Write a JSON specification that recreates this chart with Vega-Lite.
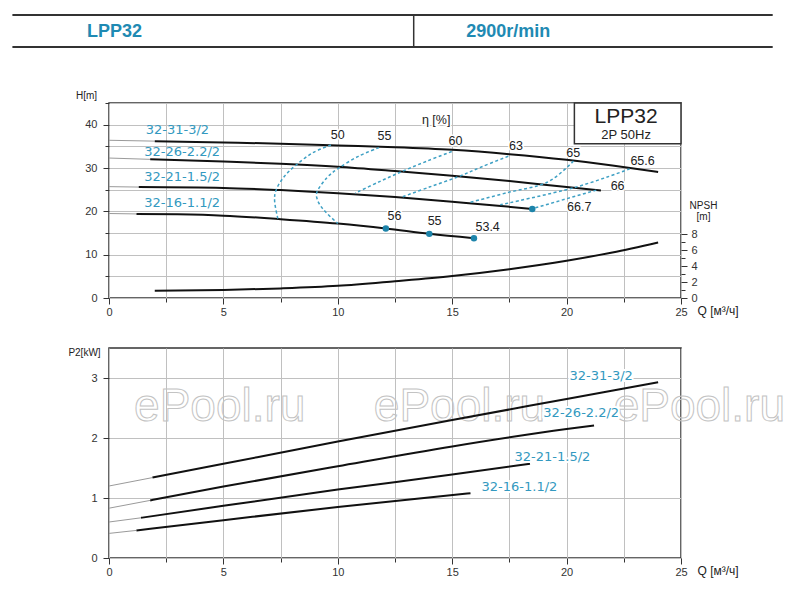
{
  "$schema": "https://vega.github.io/schema/vega-lite/v6.json",
  "padding": {"left": 11, "top": 0, "right": 0, "bottom": 0},
  "background": "white",
  "bounds": "flush",
  "spacing": 50,
  "config": {
    "font": "Liberation Sans",
    "view": {"stroke": "#333333", "strokeWidth": 1.5},
    "axis": {
      "labelFont": "Liberation Sans",
      "labelFontSize": 11,
      "labelColor": "#333333",
      "tickColor": "#333333",
      "gridColor": "#c0c0c0",
      "gridWidth": 1,
      "titleFont": "Liberation Sans",
      "titleFontWeight": "normal",
      "titleColor": "#222222",
      "titleFontSize": 10,
      "domain": false,
      "labelOverlap": false
    }
  },
  "datasets": {
    "hcurves": [
      {"model": "32-31-3/2", "part": "ext", "Q": 0, "H": 36.4},
      {"model": "32-31-3/2", "part": "ext", "Q": 2, "H": 36.2},
      {"model": "32-31-3/2", "part": "main", "Q": 2, "H": 36.2},
      {"model": "32-31-3/2", "part": "main", "Q": 5, "H": 35.9},
      {"model": "32-31-3/2", "part": "main", "Q": 7.5, "H": 35.6},
      {"model": "32-31-3/2", "part": "main", "Q": 10, "H": 35.2},
      {"model": "32-31-3/2", "part": "main", "Q": 12.5, "H": 34.8},
      {"model": "32-31-3/2", "part": "main", "Q": 15, "H": 34.2},
      {"model": "32-31-3/2", "part": "main", "Q": 17.5, "H": 33.2},
      {"model": "32-31-3/2", "part": "main", "Q": 20, "H": 31.9},
      {"model": "32-31-3/2", "part": "main", "Q": 22, "H": 30.6},
      {"model": "32-31-3/2", "part": "main", "Q": 24, "H": 29.1},
      {"model": "32-26-2.2/2", "part": "ext", "Q": 0, "H": 32.3},
      {"model": "32-26-2.2/2", "part": "ext", "Q": 1.8, "H": 32.0},
      {"model": "32-26-2.2/2", "part": "main", "Q": 1.8, "H": 32.0},
      {"model": "32-26-2.2/2", "part": "main", "Q": 5, "H": 31.5},
      {"model": "32-26-2.2/2", "part": "main", "Q": 7.5, "H": 31.0},
      {"model": "32-26-2.2/2", "part": "main", "Q": 10, "H": 30.3},
      {"model": "32-26-2.2/2", "part": "main", "Q": 12.5, "H": 29.3},
      {"model": "32-26-2.2/2", "part": "main", "Q": 15, "H": 28.2},
      {"model": "32-26-2.2/2", "part": "main", "Q": 17.5, "H": 27.0},
      {"model": "32-26-2.2/2", "part": "main", "Q": 20, "H": 25.6},
      {"model": "32-26-2.2/2", "part": "main", "Q": 21.5, "H": 24.8},
      {"model": "32-21-1.5/2", "part": "ext", "Q": 0, "H": 25.7},
      {"model": "32-21-1.5/2", "part": "ext", "Q": 1.3, "H": 25.6},
      {"model": "32-21-1.5/2", "part": "main", "Q": 1.3, "H": 25.6},
      {"model": "32-21-1.5/2", "part": "main", "Q": 5, "H": 25.4},
      {"model": "32-21-1.5/2", "part": "main", "Q": 7.5, "H": 24.9},
      {"model": "32-21-1.5/2", "part": "main", "Q": 10, "H": 24.2},
      {"model": "32-21-1.5/2", "part": "main", "Q": 12.5, "H": 23.3},
      {"model": "32-21-1.5/2", "part": "main", "Q": 15, "H": 22.2},
      {"model": "32-21-1.5/2", "part": "main", "Q": 17, "H": 21.3},
      {"model": "32-21-1.5/2", "part": "main", "Q": 18.5, "H": 20.55},
      {"model": "32-16-1.1/2", "part": "ext", "Q": 0, "H": 19.5},
      {"model": "32-16-1.1/2", "part": "ext", "Q": 1.2, "H": 19.4},
      {"model": "32-16-1.1/2", "part": "main", "Q": 1.2, "H": 19.4},
      {"model": "32-16-1.1/2", "part": "main", "Q": 3, "H": 19.3},
      {"model": "32-16-1.1/2", "part": "main", "Q": 5, "H": 19.0},
      {"model": "32-16-1.1/2", "part": "main", "Q": 7.5, "H": 18.2},
      {"model": "32-16-1.1/2", "part": "main", "Q": 10, "H": 17.2},
      {"model": "32-16-1.1/2", "part": "main", "Q": 12.1, "H": 16.05},
      {"model": "32-16-1.1/2", "part": "main", "Q": 14, "H": 14.8},
      {"model": "32-16-1.1/2", "part": "main", "Q": 15.95, "H": 13.8}
    ],
    "eff": [
      {"eff": "50", "i": 1, "Q": 9.7, "H": 35.3},
      {"eff": "50", "i": 2, "Q": 8.9, "H": 33.5},
      {"eff": "50", "i": 3, "Q": 8.18, "H": 30.7},
      {"eff": "50", "i": 4, "Q": 7.67, "H": 28.1},
      {"eff": "50", "i": 5, "Q": 7.31, "H": 25.0},
      {"eff": "50", "i": 6, "Q": 7.24, "H": 22.3},
      {"eff": "50", "i": 7, "Q": 7.38, "H": 18.3},
      {"eff": "55", "i": 1, "Q": 11.8, "H": 34.7},
      {"eff": "55", "i": 2, "Q": 10.9, "H": 32.7},
      {"eff": "55", "i": 3, "Q": 10.05, "H": 30.0},
      {"eff": "55", "i": 4, "Q": 9.53, "H": 27.8},
      {"eff": "55", "i": 5, "Q": 9.1, "H": 24.6},
      {"eff": "55", "i": 6, "Q": 9.1, "H": 22.8},
      {"eff": "55", "i": 7, "Q": 9.27, "H": 21.1},
      {"eff": "55", "i": 8, "Q": 9.55, "H": 19.4},
      {"eff": "55", "i": 9, "Q": 10.0, "H": 17.2},
      {"eff": "60", "i": 1, "Q": 14.98, "H": 33.8},
      {"eff": "60", "i": 2, "Q": 13.9, "H": 31.6},
      {"eff": "60", "i": 3, "Q": 12.85, "H": 29.3},
      {"eff": "60", "i": 4, "Q": 11.8, "H": 26.8},
      {"eff": "60", "i": 5, "Q": 10.76, "H": 24.2},
      {"eff": "63", "i": 1, "Q": 17.45, "H": 32.7},
      {"eff": "63", "i": 2, "Q": 16.3, "H": 30.3},
      {"eff": "63", "i": 3, "Q": 15.27, "H": 28.0},
      {"eff": "63", "i": 4, "Q": 14.0, "H": 25.6},
      {"eff": "63", "i": 5, "Q": 12.8, "H": 23.3},
      {"eff": "65", "i": 1, "Q": 20.3, "H": 31.6},
      {"eff": "65", "i": 2, "Q": 19.15, "H": 26.7},
      {"eff": "65", "i": 3, "Q": 17.4, "H": 24.3},
      {"eff": "65", "i": 4, "Q": 15.8, "H": 22.1},
      {"eff": "65.6", "i": 1, "Q": 22.76, "H": 29.8},
      {"eff": "65.6", "i": 2, "Q": 20.35, "H": 25.5},
      {"eff": "65.6", "i": 3, "Q": 17.1, "H": 21.5},
      {"eff": "66", "i": 1, "Q": 21.3, "H": 24.9},
      {"eff": "66", "i": 2, "Q": 18.5, "H": 20.6}
    ],
    "bep": [
      {"model": "32-16-1.1/2", "eff": 56, "Q": 12.1, "H": 16.05},
      {"model": "32-16-1.1/2", "eff": 55, "Q": 14, "H": 14.8},
      {"model": "32-16-1.1/2", "eff": 53.4, "Q": 15.95, "H": 13.8},
      {"model": "32-21-1.5/2", "eff": 66.7, "Q": 18.5, "H": 20.55}
    ],
    "effLabels": [
      {"label": "η  [%]", "Q": 14.3, "H": 41.1},
      {"label": "50", "Q": 10.0, "H": 37.7},
      {"label": "55", "Q": 12.04, "H": 37.5},
      {"label": "60", "Q": 15.14, "H": 36.2},
      {"label": "63", "Q": 17.79, "H": 35.0},
      {"label": "65", "Q": 20.29, "H": 33.5},
      {"label": "65.6", "Q": 23.32, "H": 31.7},
      {"label": "66", "Q": 22.23, "H": 25.8},
      {"label": "66.7", "Q": 20.55, "H": 20.9},
      {"label": "56", "Q": 12.48, "H": 19.0},
      {"label": "55", "Q": 14.23, "H": 17.7},
      {"label": "53.4", "Q": 16.55, "H": 16.5}
    ],
    "modelLabelsTop": [
      {"model": "32-31-3/2", "Q": 2.99, "H": 38.8},
      {"model": "32-26-2.2/2", "Q": 3.2, "H": 33.8},
      {"model": "32-21-1.5/2", "Q": 3.2, "H": 28.0},
      {"model": "32-16-1.1/2", "Q": 3.2, "H": 21.9}
    ],
    "npsh": [
      {"Q": 2, "NPSH": 0.9},
      {"Q": 5, "NPSH": 1.0},
      {"Q": 7.5, "NPSH": 1.2},
      {"Q": 10, "NPSH": 1.52},
      {"Q": 12.5, "NPSH": 2.1},
      {"Q": 15, "NPSH": 2.75},
      {"Q": 17.5, "NPSH": 3.6},
      {"Q": 20, "NPSH": 4.65},
      {"Q": 22, "NPSH": 5.7},
      {"Q": 24, "NPSH": 6.95}
    ],
    "pcurves": [
      {"model": "32-31-3/2", "part": "ext", "Q": 0, "P2": 1.2},
      {"model": "32-31-3/2", "part": "ext", "Q": 1.9, "P2": 1.34},
      {"model": "32-31-3/2", "part": "main", "Q": 1.9, "P2": 1.34},
      {"model": "32-31-3/2", "part": "main", "Q": 5, "P2": 1.57},
      {"model": "32-31-3/2", "part": "main", "Q": 10, "P2": 1.94},
      {"model": "32-31-3/2", "part": "main", "Q": 15, "P2": 2.3},
      {"model": "32-31-3/2", "part": "main", "Q": 20, "P2": 2.65},
      {"model": "32-31-3/2", "part": "main", "Q": 24, "P2": 2.93},
      {"model": "32-26-2.2/2", "part": "ext", "Q": 0, "P2": 0.83},
      {"model": "32-26-2.2/2", "part": "ext", "Q": 1.8, "P2": 0.96},
      {"model": "32-26-2.2/2", "part": "main", "Q": 1.8, "P2": 0.96},
      {"model": "32-26-2.2/2", "part": "main", "Q": 5, "P2": 1.19},
      {"model": "32-26-2.2/2", "part": "main", "Q": 10, "P2": 1.53},
      {"model": "32-26-2.2/2", "part": "main", "Q": 15, "P2": 1.86},
      {"model": "32-26-2.2/2", "part": "main", "Q": 20, "P2": 2.15},
      {"model": "32-26-2.2/2", "part": "main", "Q": 21.2, "P2": 2.21},
      {"model": "32-21-1.5/2", "part": "ext", "Q": 0, "P2": 0.6},
      {"model": "32-21-1.5/2", "part": "ext", "Q": 1.4, "P2": 0.67},
      {"model": "32-21-1.5/2", "part": "main", "Q": 1.4, "P2": 0.67},
      {"model": "32-21-1.5/2", "part": "main", "Q": 5, "P2": 0.87},
      {"model": "32-21-1.5/2", "part": "main", "Q": 10, "P2": 1.14},
      {"model": "32-21-1.5/2", "part": "main", "Q": 15, "P2": 1.39},
      {"model": "32-21-1.5/2", "part": "main", "Q": 18.4, "P2": 1.57},
      {"model": "32-16-1.1/2", "part": "ext", "Q": 0, "P2": 0.41},
      {"model": "32-16-1.1/2", "part": "ext", "Q": 1.2, "P2": 0.46},
      {"model": "32-16-1.1/2", "part": "main", "Q": 1.2, "P2": 0.46},
      {"model": "32-16-1.1/2", "part": "main", "Q": 5, "P2": 0.63},
      {"model": "32-16-1.1/2", "part": "main", "Q": 10, "P2": 0.85},
      {"model": "32-16-1.1/2", "part": "main", "Q": 15.8, "P2": 1.08}
    ],
    "modelLabelsBottom": [
      {"model": "32-31-3/2", "Q": 21.51, "P2": 3.03},
      {"model": "32-26-2.2/2", "Q": 20.64, "P2": 2.42},
      {"model": "32-21-1.5/2", "Q": 19.38, "P2": 1.69},
      {"model": "32-16-1.1/2", "Q": 17.94, "P2": 1.19}
    ],
    "watermarks": [
      {"text": "ePool.ru", "Q": 4.84, "P2": 2.29},
      {"text": "ePool.ru", "Q": 15.32, "P2": 2.29},
      {"text": "ePool.ru", "Q": 25.8, "P2": 2.29}
    ],
    "infoBox": [
      {"title": "LPP32", "subtitle": "2P  50Hz"}
    ]
  },
  "vconcat": [
    {
      "width": 572,
      "height": 53,
      "view": {"stroke": null},
      "data": {"values": [{}]},
      "layer": [
        {
          "mark": {"type": "rule", "stroke": "#333333", "strokeWidth": 2},
          "encoding": {
            "x": {"datum": -96.6, "type": "quantitative", "scale": {"domain": [0, 572], "nice": false, "zero": false}, "axis": null},
            "x2": {"datum": 663.7},
            "y": {"datum": 15, "type": "quantitative", "scale": {"domain": [0, 53], "reverse": true, "nice": false, "zero": false}, "axis": null}
          }
        },
        {
          "mark": {"type": "rule", "stroke": "#333333", "strokeWidth": 2},
          "encoding": {
            "x": {"datum": -96.6, "type": "quantitative", "axis": null},
            "x2": {"datum": 663.7},
            "y": {"datum": 47, "type": "quantitative", "axis": null}
          }
        },
        {
          "mark": {"type": "rule", "stroke": "#333333", "strokeWidth": 1.5},
          "encoding": {
            "x": {"datum": 304.7, "type": "quantitative", "axis": null},
            "y": {"datum": 15, "type": "quantitative", "axis": null},
            "y2": {"datum": 47}
          }
        },
        {
          "mark": {"type": "text", "fontWeight": "bold", "fontSize": 18, "color": "#1f8ab3", "baseline": "middle"},
          "encoding": {
            "x": {"datum": 5.4, "type": "quantitative", "axis": null},
            "y": {"datum": 31.5, "type": "quantitative", "axis": null},
            "text": {"value": "LPP32"}
          }
        },
        {
          "mark": {"type": "text", "fontWeight": "bold", "fontSize": 18, "color": "#1f8ab3", "baseline": "middle"},
          "encoding": {
            "x": {"datum": 399.2, "type": "quantitative", "axis": null},
            "y": {"datum": 31.5, "type": "quantitative", "axis": null},
            "text": {"value": "2900r/min"}
          }
        }
      ]
    },
    {
      "width": 572,
      "height": 195,
      "resolve": {"scale": {"y": "independent"}},
      "layer": [
        {
          "encoding": {
            "x": {
              "field": "Q", "type": "quantitative",
              "scale": {"domain": [0, 25], "nice": false, "zero": false},
              "axis": {
                "values": [0, 2.5, 5, 7.5, 10, 12.5, 15, 17.5, 20, 22.5, 25],
                "format": "d",
                "labelExpr": "datum.value % 5 === 0 ? datum.label : ''",
                "tickSize": {"condition": {"test": "datum.value % 5 === 0", "value": 6}, "value": 4},
                "labelFlush": false,
                "labelPadding": 2,
                "grid": true,
                "title": "Q [м³/ч]",
                "titleX": 588, "titleY": 12,
                "titleAlign": "left", "titleBaseline": "middle",
                "titleFontSize": 12
              }
            },
            "y": {
              "field": "H", "type": "quantitative",
              "scale": {"domain": [0, 45], "nice": false, "zero": false},
              "axis": {
                "values": [0, 5, 10, 15, 20, 25, 30, 35, 40, 45],
                "format": "d",
                "labelExpr": "datum.value % 10 === 0 ? datum.label : ''",
                "tickSize": {"condition": {"test": "datum.value % 10 === 0", "value": 6}, "value": 4},
                "labelPadding": 6,
                "grid": true,
                "title": "H[m]",
                "titleAngle": 0, "titleX": -23, "titleY": -3,
                "titleAlign": "center", "titleBaseline": "bottom"
              }
            }
          },
          "layer": [
            {
              "data": {"name": "hcurves"},
              "mark": {"type": "line", "interpolate": "monotone"},
              "encoding": {
                "detail": {"field": "model"},
                "color": {"field": "part", "type": "nominal", "scale": {"domain": ["ext", "main"], "range": ["#9a9a9a", "#111111"]}, "legend": null},
                "strokeWidth": {"field": "part", "type": "ordinal", "scale": {"domain": ["ext", "main"], "range": [1, 2]}, "legend": null}
              }
            },
            {
              "data": {"name": "eff"},
              "mark": {"type": "line", "interpolate": "cardinal", "strokeDash": [3, 2.5], "strokeWidth": 1.5, "color": "#3ea0c4"},
              "encoding": {
                "detail": {"field": "eff"},
                "order": {"field": "i", "type": "quantitative"}
              }
            },
            {
              "data": {"name": "bep"},
              "mark": {"type": "point", "filled": true, "size": 42, "color": "#1d84aa", "opacity": 1}
            },
            {
              "data": {"name": "effLabels"},
              "mark": {"type": "text", "fontSize": 12.5, "stroke": "white", "strokeWidth": 3, "color": "white"},
              "encoding": {"text": {"field": "label"}}
            },
            {
              "data": {"name": "effLabels"},
              "mark": {"type": "text", "fontSize": 12.5, "color": "#222222"},
              "encoding": {"text": {"field": "label"}}
            },
            {
              "data": {"name": "modelLabelsTop"},
              "mark": {"type": "text", "font": "DejaVu Sans", "fontSize": 13, "color": "#3399c0"},
              "encoding": {"text": {"field": "model"}}
            }
          ]
        },
        {
          "data": {"name": "infoBox"},
          "layer": [
            {
              "mark": {"type": "rect", "fill": "white", "stroke": "#333333", "strokeWidth": 1.5},
              "encoding": {
                "x": {"datum": 20.34, "type": "quantitative"},
                "x2": {"datum": 25},
                "y": {"datum": 45, "type": "quantitative", "scale": {"domain": [0, 45], "nice": false, "zero": false}, "axis": null},
                "y2": {"datum": 35.6}
              }
            },
            {
              "mark": {"type": "text", "fontSize": 21, "color": "#222222", "baseline": "alphabetic"},
              "encoding": {
                "x": {"datum": 22.6, "type": "quantitative"},
                "y": {"datum": 40.4, "type": "quantitative", "axis": null},
                "text": {"field": "title"}
              }
            },
            {
              "mark": {"type": "text", "fontSize": 13, "color": "#222222", "baseline": "alphabetic"},
              "encoding": {
                "x": {"datum": 22.6, "type": "quantitative"},
                "y": {"datum": 36.6, "type": "quantitative", "axis": null},
                "text": {"field": "subtitle"}
              }
            }
          ]
        },
        {
          "data": {"name": "npsh"},
          "mark": {"type": "line", "interpolate": "monotone", "color": "#111111", "strokeWidth": 2},
          "encoding": {
            "x": {"field": "Q", "type": "quantitative", "scale": {"domain": [0, 25], "nice": false, "zero": false}},
            "y": {
              "field": "NPSH", "type": "quantitative",
              "scale": {"domain": [0, 24.375], "nice": false, "zero": false},
              "axis": {
                "orient": "right",
                "values": [0, 1, 2, 3, 4, 5, 6, 7, 8],
                "format": "d",
                "labelExpr": "datum.value % 2 === 0 ? datum.label : ''",
                "tickSize": {"condition": {"test": "datum.value % 2 === 0", "value": 6}, "value": 4},
                "labelPadding": 4,
                "grid": false,
                "title": ["NPSH", "[m]"],
                "titleAngle": 0, "titleX": 22, "titleY": 97,
                "titleAlign": "center", "titleBaseline": "top",
                "titleLineHeight": 11
              }
            }
          }
        }
      ]
    },
    {
      "width": 572,
      "height": 210,
      "encoding": {
        "x": {
          "field": "Q", "type": "quantitative",
          "scale": {"domain": [0, 25], "nice": false, "zero": false},
          "axis": {
            "values": [0, 2.5, 5, 7.5, 10, 12.5, 15, 17.5, 20, 22.5, 25],
            "format": "d",
            "labelExpr": "datum.value % 5 === 0 ? datum.label : ''",
            "tickSize": {"condition": {"test": "datum.value % 5 === 0", "value": 6}, "value": 4},
            "labelFlush": false,
            "labelPadding": 2,
            "grid": true,
            "title": "Q [м³/ч]",
            "titleX": 588, "titleY": 12,
            "titleAlign": "left", "titleBaseline": "middle",
            "titleFontSize": 12
          }
        },
        "y": {
          "field": "P2", "type": "quantitative",
          "scale": {"domain": [0, 3.5], "nice": false, "zero": false},
          "axis": {
            "values": [0, 0.5, 1, 1.5, 2, 2.5, 3, 3.5],
            "format": "d",
            "labelExpr": "datum.value % 1 === 0 ? format(datum.value, 'd') : ''",
            "tickSize": {"condition": {"test": "datum.value % 1 === 0", "value": 6}, "value": 4},
            "labelPadding": 6,
            "grid": true,
            "title": "P2[kW]",
            "titleAngle": 0, "titleX": -25, "titleY": 4,
            "titleAlign": "center", "titleBaseline": "middle"
          }
        }
      },
      "layer": [
        {
          "data": {"name": "watermarks"},
          "mark": {"type": "text", "font": "Liberation Sans", "fontSize": 46, "fillOpacity": 0, "stroke": "#c3c3c3", "strokeWidth": 1, "baseline": "alphabetic"},
          "encoding": {"text": {"field": "text"}}
        },
        {
          "data": {"name": "pcurves"},
          "mark": {"type": "line", "interpolate": "monotone"},
          "encoding": {
            "detail": {"field": "model"},
            "color": {"field": "part", "type": "nominal", "scale": {"domain": ["ext", "main"], "range": ["#9a9a9a", "#111111"]}, "legend": null},
            "strokeWidth": {"field": "part", "type": "ordinal", "scale": {"domain": ["ext", "main"], "range": [1, 2]}, "legend": null}
          }
        },
        {
          "data": {"name": "modelLabelsBottom"},
          "mark": {"type": "text", "font": "DejaVu Sans", "fontSize": 13, "stroke": "white", "strokeWidth": 4, "color": "white"},
          "encoding": {"text": {"field": "model"}}
        },
        {
          "data": {"name": "modelLabelsBottom"},
          "mark": {"type": "text", "font": "DejaVu Sans", "fontSize": 13, "color": "#3399c0"},
          "encoding": {"text": {"field": "model"}}
        }
      ]
    }
  ]
}
